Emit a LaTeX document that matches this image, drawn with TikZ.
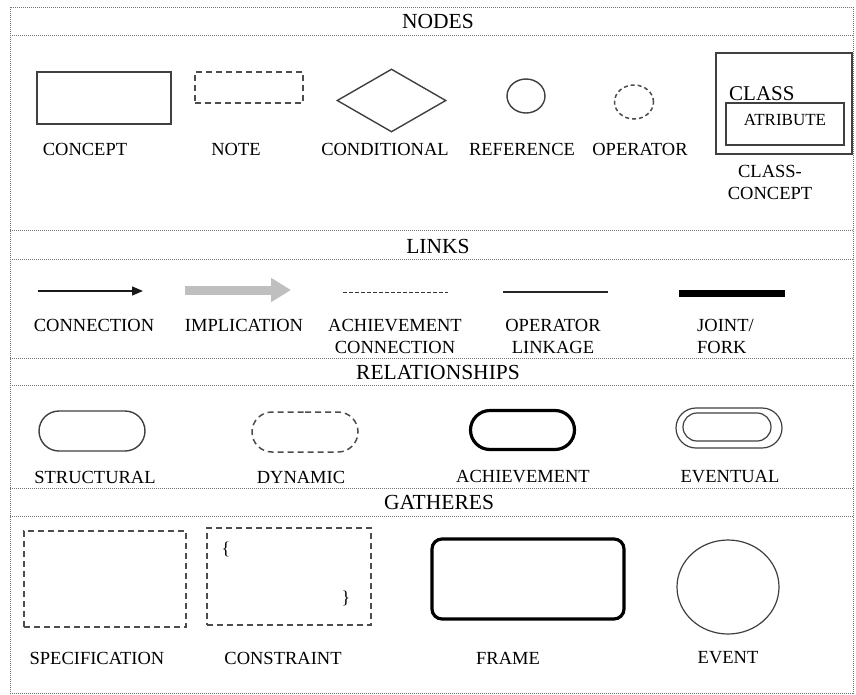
\documentclass[tikz,border=0pt]{standalone}
\usepackage{fontspec}
\setmainfont{Liberation Serif}
\usetikzlibrary{arrows.meta,shapes.geometric,shapes.misc}
\begin{document}
\begin{tikzpicture}[x=1pt,y=-1pt,
  lbl/.style={font=\fontsize{18.5}{22}\selectfont, text=black, inner sep=0pt, align=center},
  hdr/.style={font=\fontsize{21.5}{24}\selectfont, text=black, inner sep=0pt},
  sepline/.style={draw=black!55, densely dotted, line width=1pt},
  shp/.style={draw=black!75, line width=1.4pt, inner sep=0pt},
  dsh/.style={draw=black!70, line width=1.5pt, dash pattern=on 6pt off 4pt, inner sep=0pt},
  stad/.style={rounded rectangle, minimum width=106pt, minimum height=40pt, inner sep=0pt},
]
\useasboundingbox (0,0) rectangle (856,694);
\fill[white] (0,0) rectangle (856,694);
% frame and separators
\draw[sepline] (10,7) rectangle (853,693);
\foreach \yy in {35,230,259,358,385,488,516}
  \draw[sepline] (10,\yy) -- (853,\yy);
% headers
\node[hdr] (hnodes) at (438,21) {NODES};
\node[hdr] (hlinks) at (438,246) {LINKS};
\node[hdr] (hrel) at (438,372) {RELATIONSHIPS};
\node[hdr] (hgat) at (439,502) {GATHERES};

% NODES
\node[shp, rectangle, minimum width=134pt, minimum height=52pt] (concept) at (104,98) {};
\node[lbl] (lconcept) at (85,149) {CONCEPT};
\node[dsh, rectangle, minimum width=108pt, minimum height=31pt] (note) at (249,87.5) {};
\node[lbl] (lnote) at (236,149) {NOTE};
\node[shp, diamond, minimum width=109pt, minimum height=63pt] (cond) at (391.5,100.5) {};
\node[lbl] (lcond) at (385,149) {CONDITIONAL};
\node[shp, ellipse, minimum width=38pt, minimum height=34pt] (ref) at (526,96) {};
\node[lbl] (lref) at (522,149) {REFERENCE};
\node[draw=black!70, line width=1.5pt, dash pattern=on 4pt off 3pt, ellipse, minimum width=39pt, minimum height=34pt, inner sep=0pt] (oper) at (634,102) {};
\node[lbl] (loper) at (640,149) {OPERATOR};
\node[shp, rectangle, minimum width=136pt, minimum height=101pt] (class) at (784,103.5) {};
\node[shp, rectangle, minimum width=118pt, minimum height=42pt] (attr) at (785,124) {};
\node[font=\fontsize{21}{24}\selectfont, text=black, inner sep=0pt, anchor=west] (tclass) at (729,93.5) {CLASS};
\node[font=\fontsize{17}{20}\selectfont, text=black, inner sep=0pt] (tattr) at (785,120) {ATRIBUTE};
\node[lbl] (lclass) at (770,182.5) {CLASS-\\CONCEPT};

% LINKS
\coordinate (c1) at (38,291); \coordinate (c2) at (143,291);
\draw[black!90, line width=1.4pt, -{Triangle[length=11pt,width=9pt]}] (c1) -- (c2);
\node[lbl] (lconn) at (94,325) {CONNECTION};
\coordinate (i1) at (185,290); \coordinate (i2) at (291,290);
\draw[black!25, line width=9pt, -{Triangle[length=20pt,width=23pt]}] (i1) -- (i2);
\node[lbl] (limpl) at (244,325) {IMPLICATION};
\coordinate (a1) at (343,292); \coordinate (a2) at (448,292);
\draw[black!80, line width=1pt, dash pattern=on 3.5pt off 2.5pt] (a1) -- (a2);
\node[lbl] (lach) at (395,336) {ACHIEVEMENT\\CONNECTION};
\coordinate (o1) at (503,292); \coordinate (o2) at (608,292);
\draw[black!85, line width=1.3pt] (o1) -- (o2);
\node[lbl] (lop) at (553,336) {OPERATOR\\LINKAGE};
\coordinate (j1) at (679,293); \coordinate (j2) at (785,293);
\draw[black, line width=7pt] (j1) -- (j2);
\node[lbl, align=left, anchor=west] (ljoint) at (697,336) {JOINT/\\FORK};

% RELATIONSHIPS
\node[shp, stad] (struct) at (92,431) {};
\node[lbl] (lstruct) at (95,477) {STRUCTURAL};
\node[dsh, stad] (dyn) at (305,432) {};
\node[lbl] (ldyn) at (301,477) {DYNAMIC};
\node[draw=black, line width=3.2pt, stad, minimum width=104pt, minimum height=39pt] (achv) at (522.5,430) {};
\node[lbl] (lachv) at (523,477) {ACHIEVEMENT};
\node[shp, stad, line width=1.2pt] (evo) at (729,428) {};
\node[shp, stad, line width=1.2pt, minimum width=88pt, minimum height=28pt] (evi) at (727,427) {};
\node[lbl] (levt) at (730,477) {EVENTUAL};

% GATHERES
\node[dsh, rectangle, minimum width=162pt, minimum height=96pt] (spec) at (105,579) {};
\node[lbl] (lspec) at (97,658) {SPECIFICATION};
\node[dsh, rectangle, minimum width=164pt, minimum height=97pt] (cons) at (289,576.5) {};
\node[font=\fontsize{18}{20}\selectfont, inner sep=0pt] (lbr) at (226,549) {\{};
\node[font=\fontsize{18}{20}\selectfont, inner sep=0pt] (rbr) at (346,598) {\}};
\node[lbl] (lcons) at (283,658) {CONSTRAINT};
\node[draw=black, line width=3.2pt, rectangle, rounded corners=10pt, minimum width=192pt, minimum height=80pt, inner sep=0pt] (frame) at (528,579) {};
\node[lbl] (lframe) at (508,658) {FRAME};
\node[shp, ellipse, line width=1.2pt, minimum width=102pt, minimum height=94pt] (event) at (728,587) {};
\node[lbl] (levent) at (728,658) {EVENT};
\end{tikzpicture}
\end{document}
